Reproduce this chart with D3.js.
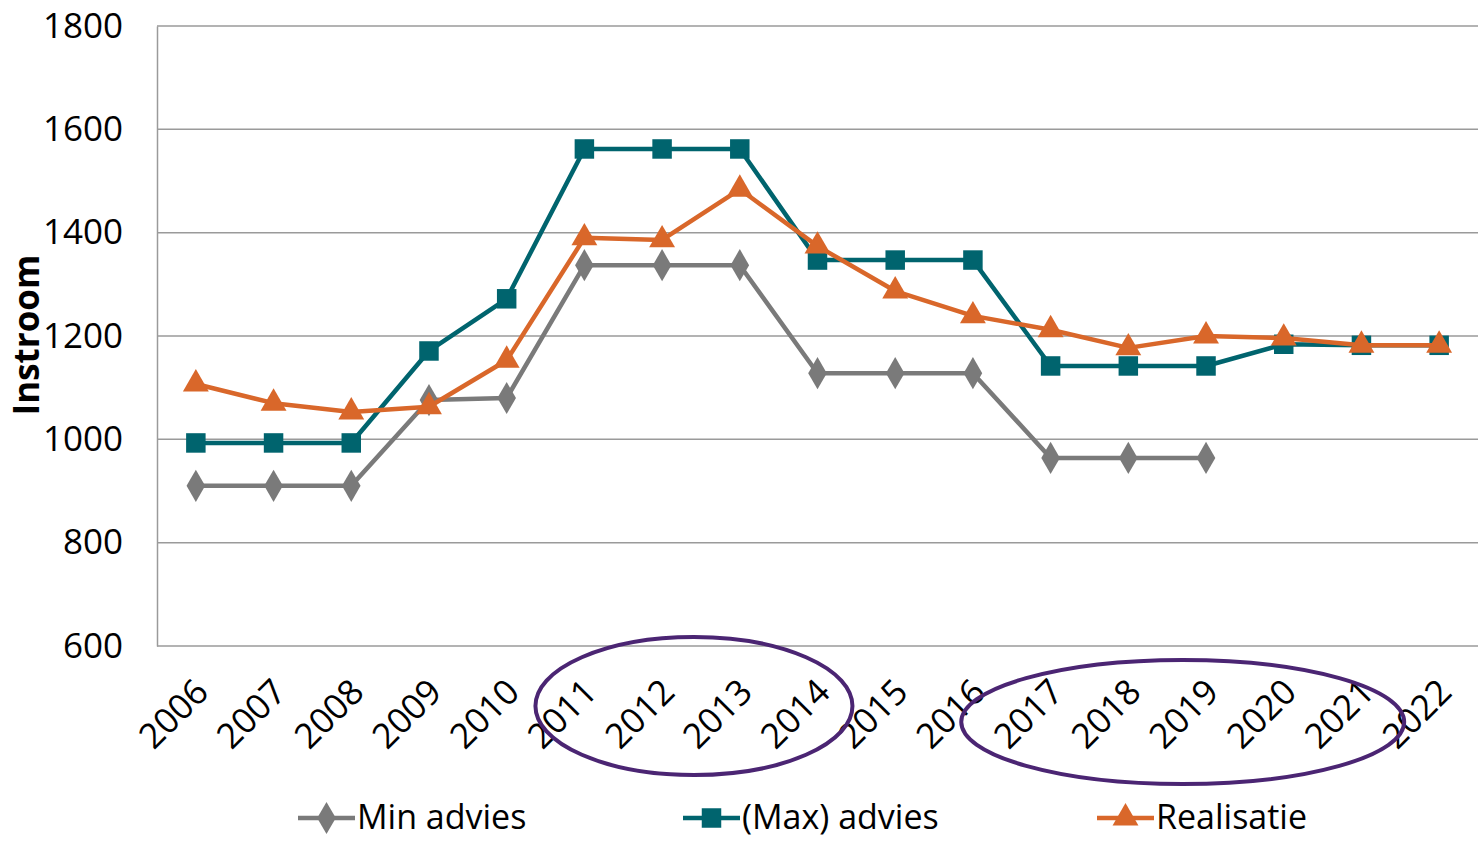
<!DOCTYPE html>
<html>
<head>
<meta charset="utf-8">
<script src="https://cdn.jsdelivr.net/npm/d3@7"></script>
<style>
  body { margin: 0; background: #fff; }
  text { font-family: "Open Sans", "Noto Sans", sans-serif; }
</style>
</head>
<body>
<div id="chart"></div>
<script>
var years = ['2006','2007','2008','2009','2010','2011','2012','2013','2014','2015','2016','2017','2018','2019','2020','2021','2022']

// Min advies stops after 2019
var minAdvies = [910, 910, 910, 1076, 1080, 1337, 1337, 1337, 1128, 1128, 1128, 964, 964, 964, null, null, null]
var maxAdvies = [993, 993, 993, 1171, 1272, 1562, 1562, 1562, 1347, 1347, 1347, 1142, 1142, 1142, 1184, 1182, 1182]
var realisatie = [1107, 1070, 1053, 1063, 1153, 1390, 1386, 1484, 1374, 1287, 1239, 1212, 1177, 1200, 1196, 1182, 1182]

var yTicks = [600, 800, 1000, 1200, 1400, 1600, 1800]

// highlighted year ranges (centre year, half width in years)
var highlights = [[2012.41, 2.04], [2018.70, 2.85]]

var series = [
    {name: 'Min advies', values: minAdvies, color: '#7a7a7a', shape: d3.symbolDiamond},
    {name: '(Max) advies', values: maxAdvies, color: '#00646e', shape: d3.symbolSquare},
    {name: 'Realisatie', values: realisatie, color: '#d9672a', shape: d3.symbolTriangle}
]

var W = 1484, H = 841
var margin = {top: 26, right: 6, bottom: 195, left: 157},
    width = W - margin.left - margin.right,
    height = H - margin.top - margin.bottom;

var svg = d3.select('#chart').append('svg')
    .attr('width', W)
    .attr('height', H)
  .append('g')
    .attr('transform', 'translate(' + margin.left + ',' + margin.top + ')');

var x = d3.scalePoint().domain(years).range([0, width]).padding(0.5)
var y = d3.scaleLinear().domain([600, 1800]).range([height, 0])
var xYear = d3.scaleLinear().domain([2006, 2022]).range([x('2006'), x('2022')])

function markerSize(shape) {
    return shape == d3.symbolTriangle ? 290 : (shape == d3.symbolSquare ? 380 : 300)
}

// gridlines
svg.append('g')
    .selectAll('line')
    .data(yTicks)
    .enter()
    .append('line')
    .attr('x1', 0)
    .attr('x2', width)
    .attr('y1', d => y(d))
    .attr('y2', d => y(d))
    .attr('stroke', '#9a9a9a')
    .attr('stroke-width', 1.5)

// y axis
var yAxis = svg.append('g')
    .call(d3.axisLeft(y).tickValues(yTicks).tickSize(0).tickPadding(34).tickFormat(d3.format('d')))
yAxis.select('.domain').attr('stroke', '#9a9a9a').attr('stroke-width', 1.5)
yAxis.selectAll('text')
    .attr('font-size', 35)
    .attr('fill', '#000')
    .attr('font-family', '"Open Sans", sans-serif')

// y axis title
svg.append('text')
    .attr('transform', 'translate(' + (-118) + ',' + (height / 2 - 1) + ') rotate(-90)')
    .attr('text-anchor', 'middle')
    .attr('font-size', 35)
    .attr('font-weight', 'bold')
    .text('Instroom')

// x axis labels, rotated
var xAxis = svg.append('g')
    .attr('transform', 'translate(0,' + height + ')')
    .call(d3.axisBottom(x).tickSize(0))
xAxis.select('.domain').remove()
xAxis.selectAll('text')
    .attr('font-size', 35)
    .attr('fill', '#000')
    .attr('font-family', '"Open Sans", sans-serif')
    .attr('text-anchor', 'end')
    .attr('dy', 0)
    .attr('transform', 'translate(12,46) rotate(-45)')

// lines + markers
var line = d3.line()
    .defined(d => d != null)
    .x((d, i) => x(years[i]))
    .y(d => y(d))

series.forEach(function(s) {
    svg.append('path')
        .datum(s.values)
        .attr('fill', 'none')
        .attr('stroke', s.color)
        .attr('stroke-width', 4.5)
        .attr('stroke-linejoin', 'round')
        .attr('d', line)

    svg.append('g')
        .selectAll('path')
        .data(s.values.map((v, i) => [years[i], v]).filter(d => d[1] != null))
        .enter()
        .append('path')
        .attr('d', d3.symbol().type(s.shape).size(markerSize(s.shape)))
        .attr('transform', d => 'translate(' + x(d[0]) + ',' + y(d[1]) + ')')
        .attr('fill', s.color)
})

// purple highlight ellipses
svg.append('g')
    .selectAll('ellipse')
    .data(highlights)
    .enter()
    .append('ellipse')
    .attr('cx', d => xYear(d[0]))
    .attr('cy', (d, i) => height + (i == 0 ? 60 : 76))
    .attr('rx', d => xYear(2006 + d[1]) - xYear(2006))
    .attr('ry', (d, i) => i == 0 ? 69 : 62)
    .attr('fill', 'none')
    .attr('stroke', '#4b2573')
    .attr('stroke-width', 4)

// legend
var legendX = [298, 683, 1097]
var legend = d3.select('svg').append('g')
    .selectAll('g')
    .data(series)
    .enter()
    .append('g')
    .attr('transform', (d, i) => 'translate(' + legendX[i] + ',' + 818 + ')')

legend.append('line')
    .attr('x1', 0).attr('x2', 57)
    .attr('stroke', d => d.color)
    .attr('stroke-width', 4.5)
legend.append('path')
    .attr('d', d => d3.symbol().type(d.shape).size(markerSize(d.shape))())
    .attr('transform', 'translate(28.5,0)')
    .attr('fill', d => d.color)
legend.append('text')
    .attr('x', 59)
    .attr('dy', '0.33em')
    .attr('font-size', 34)
    .text(d => d.name)
</script>
</body>
</html>
